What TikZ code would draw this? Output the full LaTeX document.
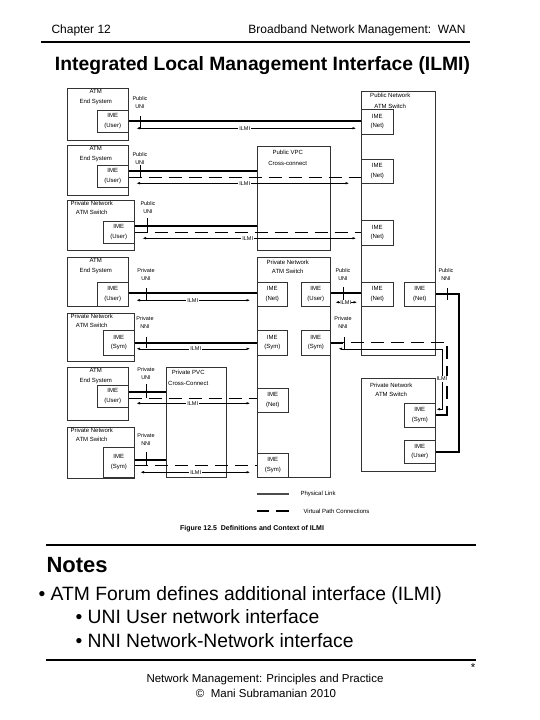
\documentclass[tikz,border=0pt]{standalone}
\usepackage{fontspec}
\setmainfont{Liberation Sans}
\usetikzlibrary{arrows.meta,calc}

\tikzset{
  sysbox/.style={draw=black!80,line width=0.5pt,anchor=north west,inner sep=0pt},
  ime/.style={sysbox,align=center,font=\fontsize{6}{9.5}\selectfont},
  ttl/.style={align=center,anchor=north,inner sep=1pt,font=\fontsize{6}{10.5}\selectfont},
  ttlsw/.style={ttl,font=\fontsize{6}{8.5}\selectfont},
  lbl/.style={align=center,inner sep=0.5pt,font=\fontsize{5.5}{8}\selectfont},
  phys/.style={line width=1.6pt},
  vpc/.style={line width=1.3pt,dash pattern=on 13pt off 7pt},
  ilmi/.style={line width=0.5pt,>={Latex[length=3.5pt,width=2.5pt]},<->},
  ilmitext/.style={lbl,fill=white,inner sep=1pt},
  tickmark/.style={line width=1pt},
  rule/.style={line width=1.6pt},
}

\begin{document}
\begin{tikzpicture}[x=1pt,y=-1pt]
\useasboundingbox (0,0) rectangle (540,720);

% page header
\node[anchor=base west,font=\fontsize{12}{14}\selectfont] (chap) at (48,33) {Chapter 12};
\node[anchor=base east,font=\fontsize{12}{14}\selectfont] (book) at (469,33) {Broadband Network Management:\ \ WAN};
\draw[rule] (41,42) -- (470,42);
\node[anchor=base,font=\bfseries\fontsize{19.3}{23}\selectfont] (title) at (262.5,70) {Integrated Local Management Interface (ILMI)};

% switches and cross-connects
\node[sysbox,minimum width=74pt,minimum height=264pt] (pubsw) at (361,91) {};
\node[ttl] (pubswt) at ([xshift=-8pt,yshift=-1pt]pubsw.north) {Public Network\\ATM Switch};
\node[ime,minimum width=32pt,minimum height=25pt] (pn1) at (361,109) {IME\\(Net)};
\node[ime,minimum width=32pt,minimum height=24pt] (pn2) at (361,159) {IME\\(Net)};
\node[ime,minimum width=32pt,minimum height=25pt] (pn3) at (361,220) {IME\\(Net)};
\node[ime,minimum width=32pt,minimum height=24pt] (pn4) at (361,282) {IME\\(Net)};
\node[ime,minimum width=31pt,minimum height=24pt] (pn5) at (404,282) {IME\\(Net)};

\node[sysbox,minimum width=73pt,minimum height=104pt] (pubvpc) at (257,146) {};
\node[ttl] (pubvpct) at ([xshift=-6pt,yshift=-3pt]pubvpc.north) {Public VPC\\Cross-connect};

\node[sysbox,minimum width=73pt,minimum height=220pt] (pvsw) at (257,257) {};
\node[ttlsw] (pvswt) at ([xshift=-6pt,yshift=-2pt]pvsw.north) {Private Network\\ATM Switch};
\node[ime,minimum width=30pt,minimum height=24pt] (pv4n) at (257,282) {IME\\(Net)};
\node[ime,minimum width=29pt,minimum height=24pt] (pv4u) at (301,282) {IME\\(User)};
\node[ime,minimum width=30pt,minimum height=25pt] (pv5s) at (257,330) {IME\\(Sym)};
\node[ime,minimum width=29pt,minimum height=25pt] (pv5y) at (301,330) {IME\\(Sym)};
\node[ime,minimum width=31pt,minimum height=24pt] (pv6n) at (257,388) {IME\\(Net)};
\node[ime,minimum width=31pt,minimum height=24pt] (pv7s) at (257,453) {IME\\(Sym)};

\node[sysbox,minimum width=60pt,minimum height=110pt] (privpvc) at (166,367) {};
\node[ttl] (privpvct) at ([xshift=-8pt,yshift=-2pt]privpvc.north) {Private PVC\\Cross-Connect};

\node[sysbox,minimum width=74pt,minimum height=93pt] (ps8) at (361,378) {};
\node[ttlsw] (ps8t) at ([xshift=-7pt,yshift=-4pt]ps8.north) {Private Network\\ATM Switch};
\node[ime,minimum width=31pt,minimum height=24pt] (ps8s) at (404,403) {IME\\(Sym)};
\node[ime,minimum width=31pt,minimum height=23pt] (ps8u) at (404,440) {IME\\(User)};

% row 1
\node[sysbox,minimum width=61pt,minimum height=52pt] (es1) at (67,88) {};
\node[ttl] (es1t) at ([xshift=-2pt]es1.north) {ATM\\End System};
\node[ime,minimum width=31pt,minimum height=22pt] (ime1) at (97,110) {IME\\(User)};
\node[lbl] (uni1) at (140,103) {Public\\UNI};
\draw[tickmark] (140,116) -- (140,128);
\draw[phys] (ime1.east) -- (ime1.east -| pn1.west);
\draw[ilmi,shorten <=8pt,shorten >=5pt] ($(ime1.east)+(0,7)$) -- node[ilmitext] (il1) {ILMI} ($(ime1.east -| pn1.west)+(0,7)$);

% row 2
\node[sysbox,minimum width=61pt,minimum height=50pt] (es2) at (67,145) {};
\node[ttl] (es2t) at ([xshift=-2pt]es2.north) {ATM\\End System};
\node[ime,minimum width=31pt,minimum height=22pt] (ime2) at (97,165) {IME\\(User)};
\node[lbl] (uni2) at (140,159) {Public\\UNI};
\draw[tickmark] (140,165) -- (140,177);
\draw[phys] ($(ime2.east)+(0,-5)$) -- ($(ime2.east -| pubvpc.west)+(0,-5)$);
\draw[vpc] ($(ime2.east)+(0,1)$) -- ($(ime2.east -| pn2.west)+(0,1)$);
\draw[ilmi,shorten <=8pt,shorten >=12pt] ($(ime2.east)+(0,7)$) -- node[ilmitext] (il2) {ILMI} ($(ime2.east -| pn2.west)+(0,7)$);

% row 3
\node[sysbox,minimum width=67pt,minimum height=50pt] (ps3) at (67,200) {};
\node[ttlsw] (ps3t) at ([xshift=-9pt]ps3.north) {Private Network\\ATM Switch};
\node[ime,minimum width=31pt,minimum height=22pt] (ime3) at (103,221) {IME\\(User)};
\node[lbl] (uni3) at (148,208) {Public\\UNI};
\draw[tickmark] (147,218) -- (147,232);
\draw[phys] ($(ime3.east)+(0,-6)$) -- ($(ime3.east -| pubvpc.west)+(0,-6)$);
\draw[vpc] (ime3.east) -- (ime3.east -| pn3.west);
\draw[ilmi,shorten <=8pt,shorten >=5pt] ($(ime3.east)+(0,6)$) -- node[ilmitext] (il3) {ILMI} ($(ime3.east -| pn3.west)+(0,6)$);

% row 4
\node[sysbox,minimum width=61pt,minimum height=49pt] (es4) at (67,257) {};
\node[ttl] (es4t) at ([xshift=-2pt]es4.north) {ATM\\End System};
\node[ime,minimum width=31pt,minimum height=24pt] (ime4) at (97,282) {IME\\(User)};
\node[lbl] (uni4) at (146,275) {Private\\UNI};
\draw[tickmark] (146,288) -- (146,300);
\draw[phys] ($(ime4.east)+(0,-1)$) -- ($(ime4.east -| pv4n.west)+(0,-1)$);
\draw[ilmi,shorten <=8pt,shorten >=7pt] ($(ime4.east)+(0,6)$) -- node[ilmitext] (il4) {ILMI} ($(ime4.east -| pv4n.west)+(0,6)$);

\node[lbl] (uni4b) at (343,275) {Public\\UNI};
\draw[tickmark] (343,287) -- (343,300);
\draw[phys] ($(pv4u.east)+(0,-1)$) -- ($(pv4u.east -| pn4.west)+(0,-1)$);
\draw[ilmi,shorten <=5pt,shorten >=4pt] ($(pv4u.east)+(0,8)$) -- node[ilmitext,inner sep=0.3pt] (il4b) {ILMI} ($(pv4u.east -| pn4.west)+(0,8)$);

\coordinate (nniR) at (459,0);
\node[lbl] (nni4) at (446,275) {Public\\NNI};
\draw[tickmark] (447,288) -- (447,300);
\draw[phys] (pn5.east) -- (pn5.east -| nniR) -- (nniR |- ps8u.east) -- (ps8u.east);

% row 5
\node[sysbox,minimum width=67pt,minimum height=48pt] (ps5) at (67,313) {};
\node[ttlsw] (ps5t) at ([xshift=-9pt]ps5.north) {Private Network\\ATM Switch};
\node[ime,minimum width=31pt,minimum height=25pt] (ime5) at (103,330) {IME\\(Sym)};
\node[lbl] (nni5) at (145,323) {Private\\NNI};
\draw[tickmark] (146,337) -- (146,348);
\draw[phys] (ime5.east) -- (ime5.east -| pv5s.west);
\draw[ilmi,shorten <=2pt,shorten >=7pt] ($(ime5.east)+(0,6)$) -- node[ilmitext] (il5) {ILMI} ($(ime5.east -| pv5s.west)+(0,6)$);

\coordinate (vpR) at (447,0);
\coordinate (ilR) at (442,0);
\node[lbl] (nni5b) at (343,323) {Private\\NNI};
\draw[tickmark] (344,337) -- (344,349);
\draw[vpc] (pv5y.east) -- (pv5y.east -| vpR) -- (vpR |- ps8s.east) -- (ps8s.east);
\draw[phys] (pv5y.east) -- (pv5y.east -| nni5b);
\draw[phys] (ps8s.east) -- (ps8s.east -| vpR);
\draw[ilmi,shorten <=8pt,shorten >=1pt] ($(pv5y.east)+(0,6)$) -- ($(pv5y.east -| ilR)+(0,6)$) -- node[ilmitext] (il5b) {ILMI} ($(ilR |- ps8s.east)+(0,-6)$) -- ($(ps8s.east)+(0,-6)$);

% row 6
\node[sysbox,minimum width=61pt,minimum height=53pt] (es6) at (67,367) {};
\node[ttl] (es6t) at ([xshift=-2pt]es6.north) {ATM\\End System};
\node[ime,minimum width=31pt,minimum height=22pt] (ime6) at (97,385) {IME\\(User)};
\node[lbl] (uni6) at (146,374) {Private\\UNI};
\draw[tickmark] (146,384) -- (146,398);
\draw[phys] ($(ime6.east)+(0,-4)$) -- ($(ime6.east -| privpvc.west)+(0,-4)$);
\draw[vpc] ($(ime6.east)+(0,2)$) -- ($(ime6.east -| pv6n.west)+(0,2)$);
\draw[ilmi,shorten <=8pt,shorten >=7pt] ($(ime6.east)+(0,7)$) -- node[ilmitext] (il6) {ILMI} ($(ime6.east -| pv6n.west)+(0,7)$);

% row 7
\node[sysbox,minimum width=67pt,minimum height=51pt] (ps7) at (67,427) {};
\node[ttlsw] (ps7t) at ([xshift=-9pt]ps7.north) {Private Network\\ATM Switch};
\node[ime,minimum width=31pt,minimum height=30pt] (ime7) at (103,447) {IME\\(Sym)};
\node[lbl] (nni7) at (146,440) {Private\\NNI};
\draw[tickmark] (146,452) -- (146,465);
\draw[phys] ($(ime7.east)+(0,-2)$) -- ($(ime7.east -| privpvc.west)+(0,-2)$);
\draw[vpc] ($(ime7.east)+(0,3)$) -- ($(ime7.east -| pv7s.west)+(0,3)$);
\draw[ilmi,shorten <=6pt,shorten >=7pt] ($(ime7.east)+(0,10)$) -- node[ilmitext] (il7) {ILMI} ($(ime7.east -| pv7s.west)+(0,10)$);

% legend and caption
\node[anchor=west,font=\fontsize{6}{7}\selectfont] (lgphys) at (297,494) {Physical Link};
\draw[phys,black!70] (lgphys.west) ++(-8,0) -- ++(-32,0);
\node[anchor=west,font=\fontsize{6}{7}\selectfont] (lgvpc) at (300,511) {Virtual Path Connections};
\draw[vpc] (lgvpc.west) ++(-11,0) -- ++(-32,0);
\node[font=\bfseries\fontsize{7}{8}\selectfont] (cap) at (252,529) {Figure 12.5\ \ Definitions and Context of ILMI};

% notes
\draw[rule] (46,545) -- (476,545);
\node[anchor=base west,font=\bfseries\fontsize{22}{26}\selectfont] (notes) at (43,572) {Notes};
\node[anchor=base west,font=\fontsize{19.3}{23}\selectfont] (pt1) at (35,600) {• ATM Forum defines additional interface (ILMI)};
\node[anchor=base west,font=\fontsize{19.3}{23}\selectfont] (pt2) at (72,623) {• UNI User network interface};
\node[anchor=base west,font=\fontsize{19.3}{23}\selectfont] (pt3) at (72,647) {• NNI Network-Network interface};
\draw[rule] (46,660) -- (476,660);

% page footer
\node[font=\fontsize{11.5}{13}\selectfont] (star) at (473,668) {*};
\node[anchor=base,font=\fontsize{11.5}{13}\selectfont] (foot1) at (265,682) {Network Management: Principles and Practice};
\node[anchor=base,font=\fontsize{11.5}{13}\selectfont] (foot2) at (266,697) {©\ \ Mani Subramanian 2010};
\end{tikzpicture}
\end{document}
